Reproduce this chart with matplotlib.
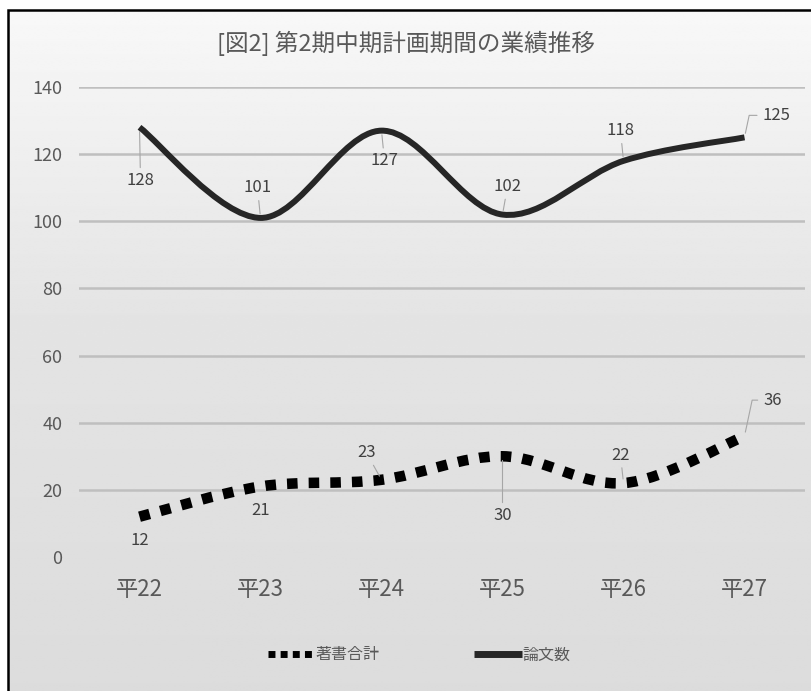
import numpy as np
import matplotlib
matplotlib.use('Agg')
import matplotlib.pyplot as plt
from matplotlib.path import Path
from matplotlib.patches import PathPatch, Rectangle
from matplotlib.lines import Line2D

plt.rcParams['font.family'] = ['Noto Sans CJK JP', 'DejaVu Sans']

# data
years = ['平22', '平23', '平24', '平25', '平26', '平27']
books = [12, 21, 23, 30, 22, 36]        # 著書合計
papers = [128, 101, 127, 102, 118, 125]  # 論文数

# label offsets (pixels) and whether a leader line is shown
book_off = [(0, -24), (0, -24), (-15, 27), (0, -59), (-3, 28), (28, 36)]
book_lead = [False, False, True, True, True, 'elbow']
paper_off = [(1, -53), (-3, 30), (3, -30), (5, 28), (-3, 30), (32, 22)]
paper_lead = [True, True, True, True, True, 'elbow']

W, H = 812, 691
fig = plt.figure(figsize=(W / 100, H / 100), dpi=100)
fig.patch.set_facecolor('white')

# gradient background inside the chart frame
bg = fig.add_axes([8 / W, 0, 1 - 8 / W, 1 - 10 / H], zorder=-5)
stops_y = [0, 0.45, 1.0]
stops_v = [248, 228, 220]
yy = np.linspace(0, 1, 300)
vals = np.interp(yy, stops_y, stops_v) / 255
bg.imshow(np.repeat(vals[:, None], 2, axis=1), cmap='gray', vmin=0, vmax=1,
          aspect='auto', extent=[0, 1, 1, 0], interpolation='bilinear')
bg.set_axis_off()
fig.patches.append(Rectangle((8 / W, -0.1), 1.2, 1.1 - 10 / H,
                             transform=fig.transFigure, fill=False,
                             edgecolor='black', linewidth=1.8, zorder=10))

ax = fig.add_axes([79 / W, 1 - 557 / H, 726 / W, 470 / H])
ax.set_facecolor('none')
x = np.arange(len(years))


def smooth_path(xs, ys):
    pts = np.column_stack([xs, ys]).astype(float)
    ext = np.vstack([pts[0], pts, pts[-1]])
    verts = [pts[0]]
    codes = [Path.MOVETO]
    for i in range(len(pts) - 1):
        p0, p1, p2, p3 = ext[i], ext[i + 1], ext[i + 2], ext[i + 3]
        c1 = p1 + (p2 - p0) / 6
        c2 = p2 - (p3 - p1) / 6
        verts += [c1, c2, p2]
        codes += [Path.CURVE4] * 3
    return Path(verts, codes)


p_book = PathPatch(smooth_path(x, books), fill=False, edgecolor='black',
                   linewidth=7.6, linestyle=(0, (1, 1.05)), capstyle='butt')
p_paper = PathPatch(smooth_path(x, papers), fill=False, edgecolor='#262626',
                    linewidth=4.3, capstyle='butt')
ax.add_patch(p_book)
ax.add_patch(p_paper)


def add_labels(vals, offs, leads):
    for xi, v, off, lead in zip(x, vals, offs, leads):
        ap = None
        if lead == 'elbow':
            ap = dict(arrowstyle='-', color='#a6a6a6', linewidth=0.8,
                      shrinkA=2, shrinkB=3,
                      connectionstyle='angle,angleA=180,angleB=78,rad=0')
        elif lead:
            ap = dict(arrowstyle='-', color='#a6a6a6', linewidth=0.8,
                      shrinkA=1, shrinkB=3)
        ax.annotate(str(v), (xi, v), xytext=off, textcoords='offset pixels',
                    ha='center', va='center', fontsize=12, color='#404040',
                    arrowprops=ap, zorder=5)


add_labels(papers, paper_off, paper_lead)
add_labels(books, book_off, book_lead)

ax.set_xlim(-0.5, len(years) - 0.5)
ax.set_ylim(0, 140)
ax.set_yticks(range(0, 141, 20))
ax.set_xticks(x)
ax.set_xticklabels(years)
for s in ax.spines.values():
    s.set_visible(False)
ax.tick_params(axis='y', length=0, pad=12, labelsize=13, labelcolor='#595959')
ax.tick_params(axis='x', length=0, pad=15, labelsize=16, labelcolor='#595959')
for yv in range(20, 141, 20):
    ax.axhline(yv, color='#bfbfbf', linewidth=1.8, zorder=0)

fig.text(0.5, 1 - 43 / H, '[図2] 第2期中期計画期間の業績推移', ha='center',
         va='center', fontsize=17, color='#595959')

handles = [Line2D([], [], color='black', linewidth=5, linestyle=(0, (1, 0.75)),
                  dash_capstyle='butt'),
           Line2D([], [], color='#262626', linewidth=5, solid_capstyle='butt')]
fig.legend(handles, ['著書合計', '論文数'], loc='center',
           bbox_to_anchor=(419 / W, 1 - 655 / H), ncol=2, frameon=False,
           fontsize=11.5, labelcolor='#595959', handlelength=3.0,
           handletextpad=0.0, columnspacing=5.9)

fig.savefig('out.png', dpi=100)
